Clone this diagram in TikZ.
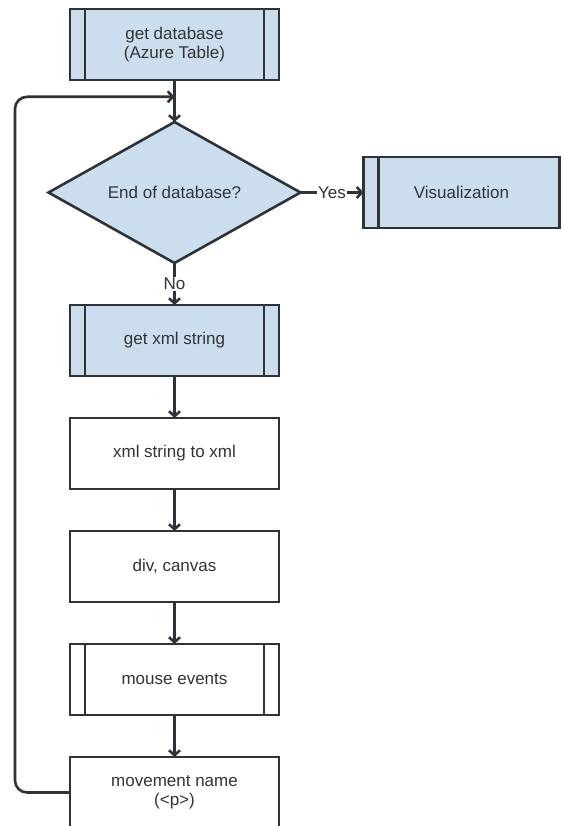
\documentclass[tikz,border=0pt]{standalone}
\usepackage{fontspec}
\setmainfont{Liberation Sans}
\usetikzlibrary{arrows.meta,positioning,calc,shapes.geometric}
\definecolor{fcblue}{HTML}{CCDDEE}
\definecolor{fcline}{HTML}{2E3338}
\definecolor{fctext}{HTML}{333333}
\tikzset{
  fcbox/.style    = {rectangle, draw=fcline, line width=2.6pt, fill=white, outer sep=0pt,
                     minimum width=209pt, minimum height=71pt, align=center, inner sep=2pt,
                     font=\fontsize{17}{19}\selectfont\color{fctext}},
  fcsubl/.style   = {fcbox, path picture={
                       \draw[fcline, line width=2.6pt]
                         ([xshift=15pt]path picture bounding box.north west) --
                         ([xshift=15pt]path picture bounding box.south west);}},
  fcsub/.style    = {fcbox, path picture={
                       \draw[fcline, line width=2.6pt]
                         ([xshift=15pt]path picture bounding box.north west) --
                         ([xshift=15pt]path picture bounding box.south west)
                         ([xshift=-15pt]path picture bounding box.north east) --
                         ([xshift=-15pt]path picture bounding box.south east);}},
  fcdec/.style    = {diamond, aspect=1.79, draw=fcline, line width=2.6pt, fill=fcblue,
                     minimum width=252pt, minimum height=141pt, inner sep=0pt, outer sep=0pt,
                     font=\fontsize{17}{19}\selectfont\color{fctext}},
  fclbl/.style    = {fill=white, inner sep=1.5pt, font=\fontsize{17}{19}\selectfont\color{fctext}},
  fcarrow/.style  = {-{Straight Barb[length=5pt,width=11pt]}, line width=2.6pt, draw=fcline},
}

\begin{document}
\begin{tikzpicture}[x=1pt, y=1pt]
\useasboundingbox (0,0) rectangle (563,-826);
% main column
\node[fcsub, fill=fcblue] (getdb) at (174.5,-44.5) {get database\\(Azure Table)};
\node[fcdec, below=42pt of getdb] (enddb) {End of database?};
\node[fcsubl, fill=fcblue, minimum width=196pt, right=63pt of enddb] (visual) {Visualization};
\node[fcsub, fill=fcblue, below=42pt of enddb] (getxml) {get xml string};
\node[fcbox, below=42pt of getxml] (toxml) {xml string to xml};
\node[fcbox, below=42pt of toxml] (divcanvas) {div, canvas};
\node[fcsub, below=42pt of divcanvas] (mouse) {mouse events};
\node[fcbox, below=42pt of mouse] (movename) {movement name\\(<p>)};
% arrows
\draw[fcarrow] (getdb) -- (enddb);
\draw[fcarrow] (enddb) -- node[fclbl] {Yes} (visual);
\draw[fcarrow] (enddb) -- node[fclbl] {No} (getxml);
\draw[fcarrow] (getxml) -- (toxml);
\draw[fcarrow] (toxml) -- (divcanvas);
\draw[fcarrow] (divcanvas) -- (mouse);
\draw[fcarrow] (mouse) -- (movename);
% loop back
\coordinate (loopin) at ($(getdb.south)!0.4!(enddb.north)$);
\draw[fcarrow, rounded corners=12pt] (movename.west) -- ++(-55pt,0) |- (loopin);
\end{tikzpicture}
\end{document}
